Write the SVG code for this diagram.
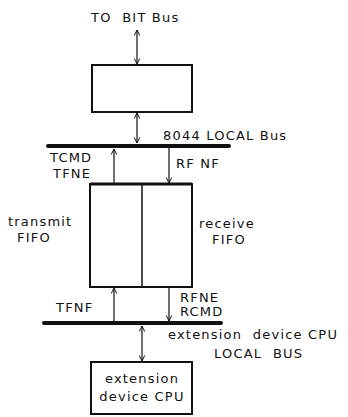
<svg xmlns="http://www.w3.org/2000/svg" width="348" height="417" viewBox="0 0 348 417">
<style>
text{font-family:"DejaVu Sans","Liberation Sans",sans-serif;font-size:13px;letter-spacing:1.2px;fill:#111;white-space:pre}
.box{fill:#fff;stroke:#111;stroke-width:2}
.bus{stroke:#111;stroke-width:4;stroke-linecap:round}
.ar{stroke:#111;stroke-width:1.2;fill:none}
</style>
<defs>
<marker id="ah" viewBox="0 0 10 10" refX="9" refY="5" markerWidth="7" markerHeight="7" orient="auto-start-reverse" markerUnits="userSpaceOnUse">
<path d="M1,1 L9,5 L1,9" fill="none" stroke="#111" stroke-width="1.4"/>
</marker>
</defs>
<rect width="348" height="417" fill="#fff"/>
<g id="buses">
<line class="bus" x1="48" y1="146" x2="229" y2="146"/>
<line class="bus" x1="44" y1="323" x2="221" y2="323"/>
</g>
<g id="top-box"><rect class="box" x="92" y="65" width="100" height="47"/></g>
<g id="fifo">
<rect class="box" x="90" y="184" width="102" height="103"/>
<line x1="90" y1="184" x2="192" y2="184" stroke="#111" stroke-width="3"/>
<line x1="142" y1="184" x2="142" y2="287" stroke="#111" stroke-width="1.5"/>
</g>
<g id="cpu-box"><rect class="box" x="91" y="362" width="101" height="52"/>
<text x="142" y="383" text-anchor="middle">extension</text>
<text x="142" y="401" text-anchor="middle">device CPU</text></g>
<g id="connectors">
<line class="ar" x1="137" y1="30" x2="137" y2="64" marker-start="url(#ah)" marker-end="url(#ah)"/>
<line class="ar" x1="137" y1="113" x2="137" y2="143" marker-start="url(#ah)" marker-end="url(#ah)"/>
<line class="ar" x1="114" y1="183" x2="114" y2="149" marker-end="url(#ah)"/>
<line class="ar" x1="169" y1="148" x2="169" y2="183" marker-end="url(#ah)"/>
<line class="ar" x1="114" y1="321" x2="114" y2="288" marker-end="url(#ah)"/>
<line class="ar" x1="169" y1="288" x2="169" y2="321" marker-end="url(#ah)"/>
<line class="ar" x1="142" y1="326" x2="142" y2="361" marker-start="url(#ah)" marker-end="url(#ah)"/>
</g>
<g id="labels">
<text x="91" y="22">TO  BIT Bus</text>
<text x="163" y="140">8044 LOCAL Bus</text>
<text x="50" y="162">TCMD</text>
<text x="53" y="178">TFNE</text>
<text x="176" y="168">RF NF</text>
<text x="8" y="226">transmit</text>
<text x="17" y="242">FIFO</text>
<text x="199" y="228">receive</text>
<text x="212" y="244">FIFO</text>
<text x="56" y="312">TFNF</text>
<text x="180" y="302">RFNE</text>
<text x="180" y="316">RCMD</text>
<text x="168" y="339">extension  device CPU</text>
<text x="214" y="358">LOCAL  BUS</text>
</g>
</svg>
